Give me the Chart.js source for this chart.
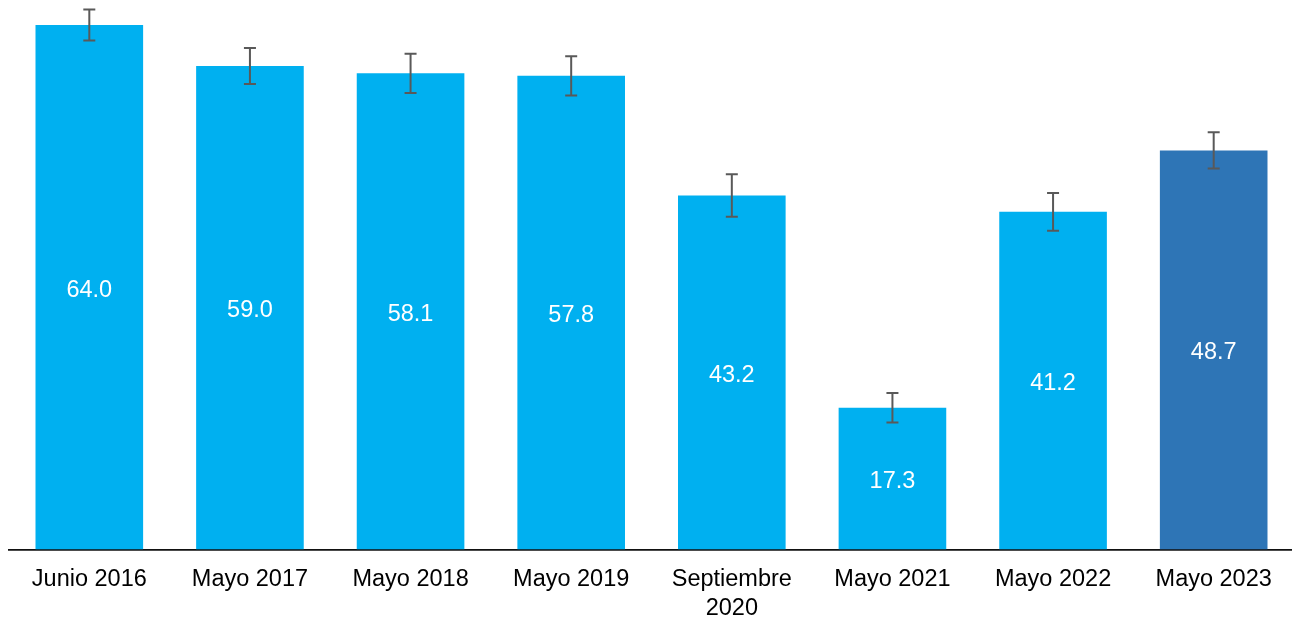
<!DOCTYPE html>
<html lang="es">
<head>
<meta charset="utf-8">
<title>Barras con error</title>
<script src="https://cdn.jsdelivr.net/npm/chart.js@4.4.1/dist/chart.umd.min.js"></script>
<style>
  html, body { margin: 0; padding: 0; background: #fff; overflow: hidden; }
  #wrap { position: relative; width: 1294px; height: 618px; }
</style>
</head>
<body>
<div id="wrap"><canvas id="grafBarras"></canvas></div>
<script>
// datos
const categorias = ["Junio 2016", "Mayo 2017", "Mayo 2018", "Mayo 2019", ["Septiembre", "2020"], "Mayo 2021", "Mayo 2022", "Mayo 2023"];
const valores = [64.0, 59.0, 58.1, 57.8, 43.2, 17.3, 41.2, 48.7];
const errores = [1.9, 2.2, 2.4, 2.4, 2.6, 1.8, 2.3, 2.2];

const AZUL = "#00B0F0";
const AZUL_OSCURO = "#2E75B6";
const FUENTE = "'Liberation Sans', Arial, sans-serif";

// barras de error (usa la escala y del gráfico)
const errorBars = {
  id: "errorBars",
  afterDatasetsDraw(chart) {
    const meta = chart.getDatasetMeta(0);
    const y = chart.scales.y;
    const ctx = chart.ctx;
    ctx.save();
    ctx.strokeStyle = "#595959";
    ctx.lineWidth = 2;
    meta.data.forEach((bar, i) => {
      const v = valores[i], e = errores[i];
      const yTop = y.getPixelForValue(v + e);
      const yBot = y.getPixelForValue(v - e);
      const x = bar.x;
      ctx.beginPath();
      ctx.moveTo(x, yTop); ctx.lineTo(x, yBot);
      ctx.moveTo(x - 6, yTop); ctx.lineTo(x + 6, yTop);
      ctx.moveTo(x - 6, yBot); ctx.lineTo(x + 6, yBot);
      ctx.stroke();
    });
    ctx.restore();
  },
};

// etiquetas de valor en medio de cada barra
const etiquetas = {
  id: "etiquetas",
  afterDatasetsDraw(chart) {
    const meta = chart.getDatasetMeta(0);
    const ctx = chart.ctx;
    ctx.save();
    ctx.fillStyle = "#fff";
    ctx.font = "23.5px " + FUENTE;
    ctx.textAlign = "center";
    ctx.textBaseline = "middle";
    meta.data.forEach((bar, i) => {
      ctx.fillText(valores[i].toFixed(1), bar.x, (bar.y + bar.base) / 2 + 3);
    });
    ctx.restore();
  },
};

new Chart(document.getElementById("grafBarras"), {
  type: "bar",
  data: {
    labels: categorias,
    datasets: [
      {
        data: valores,
        backgroundColor: valores.map((_, i) => (i === valores.length - 1 ? AZUL_OSCURO : AZUL)),
        borderWidth: 0,
        barPercentage: 0.67,
        categoryPercentage: 1,
      },
    ],
  },
  options: {
    responsive: true,
    maintainAspectRatio: false,
    animation: false,
    layout: { padding: { left: 9, right: 0, top: 0, bottom: 0 } },
    plugins: {
      legend: { display: false },
      tooltip: { enabled: false },
    },
    scales: {
      x: {
        grid: { display: false },
        border: { display: true, color: "#111", width: 1.8 },
        ticks: {
          color: "#000",
          padding: 8,
          maxRotation: 0,
          autoSkip: false,
          font: { family: FUENTE, size: 23.5, lineHeight: 1.22 },
        },
        afterFit: (s) => { s.height = 68.5; },
      },
      y: {
        display: false,
        min: 0,
        max: 67.05,
      },
    },
  },
  plugins: [etiquetas, errorBars],
});
</script>
</body>
</html>
